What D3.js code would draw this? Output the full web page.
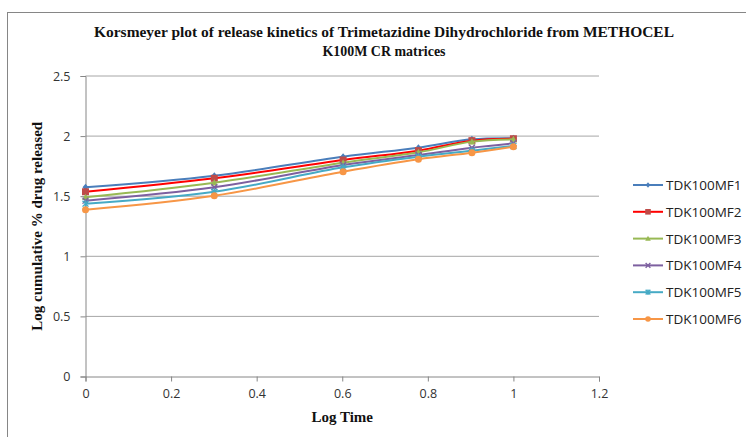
<!DOCTYPE html>
<html>
<head>
<meta charset="utf-8">
<script src="https://cdn.jsdelivr.net/npm/d3@7"></script>
<style>
  body { margin: 0; background: #fff; }
  svg { display: block; }
  .tick text { font-family: "Open Sans", "Liberation Sans", sans-serif; font-size: 12.5px; fill: #333; }
</style>
</head>
<body>
<svg id="chart"></svg>
<script>
const logTime = [0, 0.301, 0.602, 0.778, 0.903, 1.0]
const seriesNames = ['TDK100MF1', 'TDK100MF2', 'TDK100MF3', 'TDK100MF4', 'TDK100MF5', 'TDK100MF6']
const mf1 = [1.574, 1.671, 1.829, 1.904, 1.973, 1.982]
const mf2 = [1.537, 1.649, 1.801, 1.879, 1.962, 1.978]
const mf3 = [1.491, 1.612, 1.779, 1.865, 1.954, 1.973]
const mf4 = [1.463, 1.574, 1.760, 1.843, 1.904, 1.940]
const mf5 = [1.438, 1.537, 1.740, 1.829, 1.879, 1.918]
const mf6 = [1.388, 1.504, 1.704, 1.807, 1.862, 1.912]
const xTicks = [0, 0.2, 0.4, 0.6, 0.8, 1, 1.2]
const yTicks = [0, 0.5, 1, 1.5, 2, 2.5]

const allValues = [mf1, mf2, mf3, mf4, mf5, mf6]
const lineColors = ['#4a7ebb', '#ff0000', '#98b954', '#7d60a0', '#46aac5', '#f79646']
const markColors = ['#4a7ebb', '#be4b48', '#98b954', '#7d60a0', '#46aac5', '#f79646']
const markTypes = ['diamond', 'square', 'triangle', 'x', 'star', 'circle']

const w = 746
const h = 437
const plotL = 85.5, plotR = 599, plotT = 76, plotB = 376.5

const svg = d3.select('#chart').attr('width', w).attr('height', h)

// outer frame
svg.append('rect')
   .attr('x', 7.5).attr('y', 12.5)
   .attr('width', 760).attr('height', 450)
   .attr('fill', 'none').attr('stroke', '#868686')

const xScale = d3.scaleLinear().domain([0, 1.2]).range([plotL, plotR])
const yScale = d3.scaleLinear().domain([0, 2.5]).range([plotB, plotT])

// gridlines
svg.append('g')
   .selectAll('line')
   .data(yTicks.filter(d => d > 0))
   .enter()
   .append('line')
     .attr('x1', plotL).attr('x2', plotR)
     .attr('y1', d => yScale(d)).attr('y2', d => yScale(d))
     .attr('stroke', '#a6a6a6').attr('stroke-width', 1)

const xAxis = d3.axisBottom(xScale)
                .tickValues(xTicks)
                .tickFormat(d3.format('~g'))
                .tickSizeOuter(0)
                .tickSize(5)
                .tickPadding(8)
svg.append('g')
   .attr('id', 'x-axis')
   .attr('transform', 'translate(0, ' + plotB + ')')
   .call(xAxis)

const yAxis = d3.axisLeft(yScale)
                .tickValues(yTicks)
                .tickFormat(d3.format('~g'))
                .tickSizeOuter(0)
                .tickSize(5)
                .tickPadding(10)
svg.append('g')
   .attr('id', 'y-axis')
   .attr('transform', 'translate(' + plotL + ', 0)')
   .call(yAxis)

svg.selectAll('.domain, .tick line').attr('stroke', '#868686')

// lines
const line = d3.line()
               .x((d, i) => xScale(logTime[i]))
               .y(d => yScale(d))
               .curve(d3.curveCatmullRom.alpha(0.5))

function drawMarker(g, type, color, x, y, k) {
  const r = 3.5 * k
  if (type === 'diamond') {
    g.append('path').attr('d', `M${x},${y - r}L${x + r * 0.85},${y}L${x},${y + r}L${x - r * 0.85},${y}Z`).attr('fill', color)
  } else if (type === 'square') {
    g.append('rect').attr('x', x - r).attr('y', y - r).attr('width', 2 * r).attr('height', 2 * r).attr('fill', color)
  } else if (type === 'triangle') {
    g.append('path').attr('d', `M${x},${y - r}L${x + r},${y + r * 0.8}L${x - r},${y + r * 0.8}Z`).attr('fill', color)
  } else if (type === 'x') {
    g.append('path').attr('d', `M${x - r * 0.85},${y - r * 0.85}L${x + r * 0.85},${y + r * 0.85}M${x - r * 0.85},${y + r * 0.85}L${x + r * 0.85},${y - r * 0.85}`)
     .attr('stroke', color).attr('stroke-width', 1.4)
  } else if (type === 'star') {
    g.append('path').attr('d', `M${x - r * 0.85},${y - r * 0.85}L${x + r * 0.85},${y + r * 0.85}M${x - r * 0.85},${y + r * 0.85}L${x + r * 0.85},${y - r * 0.85}M${x},${y - r}L${x},${y + r}`)
     .attr('stroke', color).attr('stroke-width', 1.4)
  } else {
    g.append('circle').attr('cx', x).attr('cy', y).attr('r', r).attr('fill', color)
  }
}

allValues.forEach((vals, s) => {
  const g = svg.append('g')
  g.append('path')
   .datum(vals)
   .attr('d', line)
   .attr('fill', 'none')
   .attr('stroke', lineColors[s])
   .attr('stroke-width', 2)
  vals.forEach((v, i) => drawMarker(g, markTypes[s], markColors[s], xScale(logTime[i]), yScale(v), 1))
})

// legend
seriesNames.forEach((name, s) => {
  const y = 185 + s * 26.8
  const g = svg.append('g')
  g.append('line')
   .attr('x1', 633).attr('x2', 663).attr('y1', y).attr('y2', y)
   .attr('stroke', lineColors[s]).attr('stroke-width', 2)
  drawMarker(g, markTypes[s], markColors[s], 648, y, 0.8)
  g.append('text')
   .attr('x', 666).attr('y', y + 5)
   .attr('font-family', '"Open Sans", "Liberation Sans", sans-serif')
   .attr('font-size', 13.5)
   .attr('fill', '#222')
   .text(name)
})

// titles
const title = svg.append('text')
   .attr('text-anchor', 'middle')
   .attr('font-family', '"Liberation Serif", "Times New Roman", serif')
   .attr('font-weight', 'bold')
   .attr('font-size', 15)
   .attr('fill', '#111')
title.append('tspan').attr('x', 384).attr('y', 37)
     .attr('textLength', 580).attr('lengthAdjust', 'spacingAndGlyphs')
     .text('Korsmeyer plot of release kinetics of Trimetazidine Dihydrochloride from METHOCEL')
title.append('tspan').attr('x', 384).attr('y', 56)
     .attr('textLength', 123).attr('lengthAdjust', 'spacingAndGlyphs')
     .text('K100M CR matrices')

svg.append('text')
   .attr('x', (plotL + plotR) / 2).attr('y', 422)
   .attr('text-anchor', 'middle')
   .attr('font-family', '"Liberation Serif", "Times New Roman", serif')
   .attr('font-weight', 'bold').attr('font-size', 15).attr('fill', '#111')
   .text('Log Time')

svg.append('text')
   .attr('transform', 'translate(42, ' + ((plotT + plotB) / 2) + ') rotate(-90)')
   .attr('text-anchor', 'middle')
   .attr('font-family', '"Liberation Serif", "Times New Roman", serif')
   .attr('font-weight', 'bold').attr('font-size', 15).attr('fill', '#111')
   .text('Log cumulative % drug released')
</script>
</body>
</html>
